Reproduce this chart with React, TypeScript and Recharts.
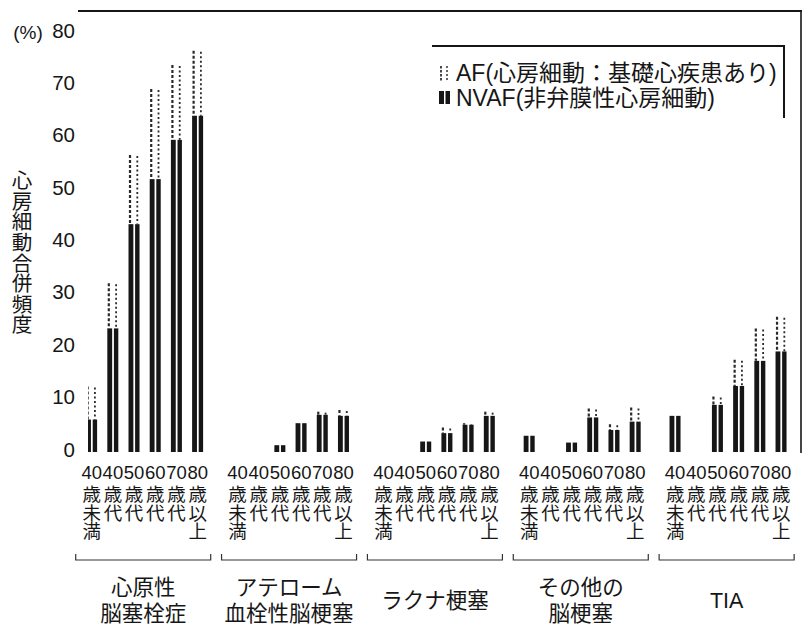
import React from "react";
import { BarChart, Bar, XAxis, YAxis, Customized } from "recharts";

// ---------- data ----------
const groupLabels: string[][] = [
  ["心原性", "脳塞栓症"],
  ["アテローム", "血栓性脳梗塞"],
  ["ラクナ梗塞"],
  ["その他の", "脳梗塞"],
  ["TIA"],
];
const ageNumbers = ["40", "40", "50", "60", "70", "80"];
const ageSuffixes = ["歳未満", "歳代", "歳代", "歳代", "歳代", "歳以上"];
// NVAF (dark, bottom) and AF (dotted, top) per group, per age class
const nvafCardio = [6.2, 23.6, 43.5, 52.1, 59.6, 64.2];
const afCardio = [6.3, 8.6, 13.2, 17.2, 14.3, 12.4];
const nvafAthero = [0, 0, 1.3, 5.5, 7.1, 6.9];
const afAthero = [0, 0, 0, 0, 0.6, 1.1];
const nvafLacunar = [0, 0, 2.0, 3.6, 5.2, 6.9];
const afLacunar = [0, 0, 0, 1.1, 0.3, 0.8];
const nvafOther = [3.1, 0, 1.8, 6.6, 4.2, 5.8];
const afOther = [0, 0, 0, 1.7, 1.1, 2.7];
const nvafTIA = [6.9, 0, 9.0, 12.6, 17.4, 19.2];
const afTIA = [0, 0, 1.6, 5.0, 6.2, 6.6];
const yTicks = [0, 10, 20, 30, 40, 50, 60, 70, 80];
const yTitle = "心房細動合併頻度";
const legendAF = "AF(心房細動：基礎心疾患あり)";
const legendNVAF = "NVAF(非弁膜性心房細動)";

const nvafByGroup = [nvafCardio, nvafAthero, nvafLacunar, nvafOther, nvafTIA];
const afByGroup = [afCardio, afAthero, afLacunar, afOther, afTIA];

// ---------- layout ----------
const W = 803;
const H = 625;
const PLOT_LEFT = 88;
const PLOT_RIGHT = 800;
const PLOT_TOP = 33;
const PLOT_BOTTOM = 452;
const GROUP_STEP = 6.88;
const X_MIN = -0.175;
const X_MAX = 33.41;
const FONT = '"Liberation Sans", Arial, "Noto Sans CJK JP", sans-serif';
const CJK = '"Noto Sans CJK JP", "Liberation Sans", sans-serif';
const INK = "#161616";

const data = nvafByGroup.flatMap((vals, g) =>
  vals.map((v, i) => ({
    pos: g * GROUP_STEP + i,
    g,
    i,
    nvaf: v,
    af: afByGroup[g][i],
  }))
);
const positions = data.map((d) => d.pos);

const px = (pos: number) =>
  PLOT_LEFT + ((pos - X_MIN) / (X_MAX - X_MIN)) * (PLOT_RIGHT - PLOT_LEFT);

const NvafShape = (props: any) => {
  const { x, y, width, height } = props;
  if (!height || height <= 0.2) return null;
  const lw = width * 0.44;
  const rw = width * 0.4;
  return (
    <g>
      <rect x={x} y={y} width={lw} height={height} fill={INK} />
      <rect x={x + width - rw} y={y} width={rw} height={height} fill={INK} />
    </g>
  );
};

const AfShape = (props: any) => {
  const { x, y, width, height } = props;
  if (!height || height <= 0.2) return null;
  return (
    <g>
      <line x1={x + 1.5} x2={x + 1.5} y1={y} y2={y + height} stroke="#2a2a2a" strokeWidth={2.2} strokeDasharray="3 2" />
      <line x1={x + width - 2.2} x2={x + width - 2.2} y1={y + 1} y2={y + height} stroke="#2a2a2a" strokeWidth={1.8} strokeDasharray="2 2.5" />
    </g>
  );
};

const AgeTick = (props: any) => {
  const { x, payload } = props;
  const k = positions.findIndex((p) => Math.abs(p - payload.value) < 1e-6);
  if (k < 0) return null;
  const i = k % 6;
  return (
    <g fill={INK}>
      <text x={x} y={479} textAnchor="middle" fontFamily={FONT} fontSize={18.5}>
        {ageNumbers[i]}
      </text>
      <text
        x={x}
        y={485}
        textAnchor="start"
        fontFamily={CJK}
        fontSize={18.5}
        style={{ writingMode: "vertical-rl" } as any}
      >
        {ageSuffixes[i]}
      </text>
    </g>
  );
};

const YTick = (props: any) => {
  const { y, payload } = props;
  return (
    <text x={75} y={y - 3} textAnchor="end" dominantBaseline="central" fontSize={20.5} fontFamily={FONT} fill={INK}>
      {payload.value}
    </text>
  );
};

const Decorations = () => (
  <g fontFamily={FONT} fill={INK}>
    {/* frame */}
    <line x1={78} x2={802} y1={11} y2={11} stroke={INK} strokeWidth={2.2} />
    <line x1={801} x2={801} y1={11} y2={453} stroke={INK} strokeWidth={1.6} />
    {/* (%) */}
    <text x={28} y={32} textAnchor="middle" dominantBaseline="central" fontSize={19}>(%)</text>
    {/* y title */}
    <text
      x={22}
      y={170}
      textAnchor="start"
      fontFamily={CJK}
      fontSize={20.6}
      style={{ writingMode: "vertical-rl" } as any}
    >
      {yTitle}
    </text>
    {/* legend */}
    <line x1={432} x2={785} y1={46} y2={46} stroke={INK} strokeWidth={2} />
    <line x1={784} x2={784} y1={46} y2={118} stroke={INK} strokeWidth={2} />
    <line x1={441} x2={441} y1={66} y2={81} stroke="#333" strokeWidth={1.8} strokeDasharray="2.5 1.5" />
    <line x1={447} x2={447} y1={66} y2={81} stroke="#333" strokeWidth={1.5} strokeDasharray="2 2" />
    <rect x={439} y={91} width={5} height={13} fill={INK} />
    <rect x={445.5} y={91} width={4.5} height={13} fill={INK} />
    <text x={456} y={73} dominantBaseline="central" fontSize={23}>{legendAF}</text>
    <text x={456} y={98} dominantBaseline="central" fontSize={23}>{legendNVAF}</text>
    {/* group brackets and labels */}
    {groupLabels.map((lines, g) => {
      const a = px(g * GROUP_STEP) - 16;
      const b = px(g * GROUP_STEP + 5) + 13;
      const cx = (a + b) / 2;
      const yb = 560;
      return (
        <g key={g}>
          <polyline
            points={`${a},${yb - 6} ${a},${yb} ${b},${yb} ${b},${yb - 6}`}
            fill="none"
            stroke="#333"
            strokeWidth={1.2}
          />
          {lines.length === 2 ? (
            lines.map((t, r) => (
              <text key={r} x={cx} y={588 + r * 26} textAnchor="middle" dominantBaseline="central" fontSize={21.5}>
                {t}
              </text>
            ))
          ) : (
            <text x={cx} y={601} textAnchor="middle" dominantBaseline="central" fontSize={21.5}>
              {lines[0]}
            </text>
          )}
        </g>
      );
    })}
  </g>
);

export default function App() {
  return (
    <div style={{ position: "absolute", left: 0, top: 0, width: W, height: H, background: "#fff" }}>
      <BarChart
        width={W}
        height={H}
        data={data}
        margin={{ top: PLOT_TOP, right: W - PLOT_RIGHT, left: 0, bottom: H - PLOT_BOTTOM - 40 }}
        barGap={0}
      >
        <XAxis
          type="number"
          dataKey="pos"
          domain={[X_MIN, X_MAX]}
          allowDataOverflow
          ticks={positions}
          interval={0}
          tick={<AgeTick />}
          axisLine={false}
          tickLine={false}
          height={40}
        />
        <YAxis
          type="number"
          domain={[0, 80]}
          ticks={yTicks}
          interval={0}
          width={PLOT_LEFT}
          axisLine={false}
          tickLine={false}
          tick={<YTick />}
        />
        <Bar dataKey="nvaf" stackId="s" barSize={11} shape={NvafShape} isAnimationActive={false} />
        <Bar dataKey="af" stackId="s" barSize={11} shape={AfShape} isAnimationActive={false} />
        <Customized component={Decorations} />
      </BarChart>
    </div>
  );
}
